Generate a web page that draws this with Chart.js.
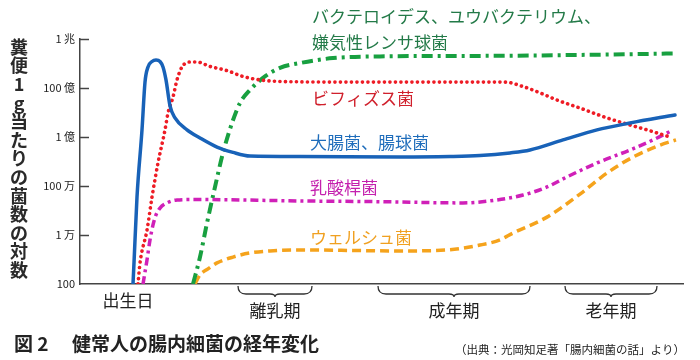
<!DOCTYPE html>
<html>
<head>
<meta charset="utf-8">
<script src="https://cdn.jsdelivr.net/npm/chart.js@4/dist/chart.umd.min.js"></script>
<style>
  html, body { margin: 0; padding: 0; background: #fff; }
  #wrap { width: 700px; height: 360px; }
</style>
</head>
<body>
<div id="wrap"><canvas id="c" width="700" height="360"></canvas></div>
<script>
// ---- data (x: time along the axis, y: log10 of bacteria count per 1 g feces) ----
const ageBlue = [53, 54, 57, 62, 65, 68, 72, 76, 80, 83, 86, 90, 95, 107, 120, 137, 153, 170, 220, 320, 370, 400, 430, 450, 483, 517, 550, 595];
const logBlue = [2.0, 2.86, 5.55, 8.29, 10.24, 10.86, 11.08, 11.14, 11.08, 10.86, 10.33, 9.27, 8.78, 8.29, 7.96, 7.59, 7.37, 7.22, 7.2, 7.18, 7.2, 7.24, 7.35, 7.47, 7.88, 8.29, 8.57, 8.9];

const ageRed = [58, 60, 67, 72, 78, 85, 88, 93, 97, 102, 110, 117, 130, 147, 163, 180, 207, 270, 350, 425, 443, 460, 477, 500, 527, 550, 567, 590];
const logRed = [2.0, 2.86, 4.2, 5.55, 6.94, 8.29, 8.98, 9.63, 10.33, 10.86, 11.06, 11.06, 10.88, 10.71, 10.47, 10.33, 10.26, 10.24, 10.24, 10.24, 10.06, 9.8, 9.51, 9.18, 8.78, 8.49, 8.29, 8.0];

const ageMagenta = [63, 67, 70, 73, 76, 80, 87, 97, 115, 220, 300, 383, 417, 443, 467, 487, 517, 550, 573, 593];
const logMagenta = [2.0, 2.98, 3.8, 4.41, 4.82, 5.1, 5.31, 5.43, 5.45, 5.39, 5.36, 5.31, 5.43, 5.63, 5.96, 6.37, 6.94, 7.47, 7.88, 8.29];

const ageGreen = [113, 120, 127, 135, 143, 152, 160, 170, 183, 200, 220, 253, 300, 400, 500, 597];
const logGreen = [2.0, 3.1, 4.49, 5.96, 7.35, 8.57, 9.39, 9.92, 10.41, 10.82, 11.02, 11.22, 11.29, 11.31, 11.35, 11.41];

const ageOrange = [115, 120, 128, 137, 153, 170, 190, 220, 320, 367, 400, 420, 433, 467, 500, 527, 553, 580, 596];
const logOrange = [2.0, 2.37, 2.62, 2.86, 3.1, 3.27, 3.35, 3.39, 3.35, 3.39, 3.59, 3.8, 4.08, 4.73, 5.67, 6.53, 7.18, 7.67, 7.88];

const yTickValues = [2, 4, 6, 8, 10, 12];
const yTickLabels = ['100', '1 万', '100 万', '1 億', '100 億', '1 兆'];

const seriesNames = ['大腸菌、腸球菌', 'ビフィズス菌', '乳酸桿菌', 'バクテロイデス、ユウバクテリウム、\n嫌気性レンサ球菌', 'ウェルシュ菌'];

const birthLabel = '出生日';
const birthAge = 48;
const periodLabels = ['離乳期', '成年期', '老年期'];
const periodStart = [158, 298, 485];
const periodEnd = [232, 450, 577];

const yTitle = '糞便1g当たりの菌数の対数';
const figTitleNum = '図 2';
const figTitle = '健常人の腸内細菌の経年変化';
const sourceText = '（出典：光岡知足著「腸内細菌の話」より）';

// ---- chart ----
const FONT = "'Noto Sans CJK JP', 'Noto Sans', sans-serif";
Chart.defaults.font.family = FONT;

function pts(xs, ys) { return xs.map((x, i) => ({ x: x, y: ys[i] })); }

const colors = {
  blue: '#1862b8', red: '#ee1c25', magenta: '#d020b8', green: '#18a040', orange: '#f5a31c'
};
const textColors = {
  blue: '#1f6dbb', red: '#d0202c', magenta: '#c420ae', green: '#237a48', orange: '#f0a020'
};

const datasets = [
  { label: seriesNames[0], data: pts(ageBlue, logBlue), borderColor: colors.blue, borderWidth: 3.5, borderCapStyle: 'round' },
  { label: seriesNames[1], data: pts(ageRed, logRed), borderColor: colors.red, borderWidth: 3.6, borderDash: [0.1, 5.4], borderCapStyle: 'round' },
  { label: seriesNames[2], data: pts(ageMagenta, logMagenta), borderColor: colors.magenta, borderWidth: 3.5, borderDash: [8, 4, 3, 4] },
  { label: seriesNames[3], data: pts(ageGreen, logGreen), borderColor: colors.green, borderWidth: 4, borderDash: [11, 5, 3, 5] },
  { label: seriesNames[4], data: pts(ageOrange, logOrange), borderColor: colors.orange, borderWidth: 3.5, borderDash: [9, 5] }
];
datasets.forEach(d => { d.fill = false; d.pointRadius = 0; d.cubicInterpolationMode = 'monotone'; });

const decor = {
  id: 'decor',
  afterDraw(chart) {
    const ctx = chart.ctx;
    const xs = chart.scales.x, ys = chart.scales.y;
    const area = chart.chartArea;
    ctx.save();

    // inward y ticks
    ctx.strokeStyle = '#444';
    ctx.lineWidth = 1.5;
    yTickValues.forEach(v => {
      if (v === ys.min) return;
      const y = Math.round(ys.getPixelForValue(v)) + 0.5;
      ctx.beginPath();
      ctx.moveTo(area.left, y);
      ctx.lineTo(area.left + 9, y);
      ctx.stroke();
    });

    // vertical y title
    ctx.fillStyle = '#2a2a2a';
    ctx.font = 'bold 18px ' + FONT;
    ctx.textAlign = 'center';
    ctx.textBaseline = 'middle';
    const chars = Array.from(yTitle);
    chars.forEach((ch, i) => { ctx.fillText(ch, 19, 47 + i * 18.6); });

    // x period labels & braces
    ctx.fillStyle = '#222';
    ctx.font = '17px ' + FONT;
    ctx.fillText(birthLabel, xs.getPixelForValue(birthAge), 301);
    ctx.strokeStyle = '#333';
    ctx.lineWidth = 1.3;
    periodLabels.forEach((lab, i) => {
      const x1 = xs.getPixelForValue(periodStart[i]);
      const x2 = xs.getPixelForValue(periodEnd[i]);
      const xm = (x1 + x2) / 2;
      const yt = area.bottom + 2, ym = area.bottom + 10, yb = area.bottom + 13;
      ctx.beginPath();
      ctx.moveTo(x1, yt);
      ctx.quadraticCurveTo(x1, ym, x1 + 8, ym);
      ctx.lineTo(xm - 5, ym);
      ctx.quadraticCurveTo(xm, ym, xm, yb);
      ctx.quadraticCurveTo(xm, ym, xm + 5, ym);
      ctx.lineTo(x2 - 8, ym);
      ctx.quadraticCurveTo(x2, ym, x2, yt);
      ctx.stroke();
      ctx.fillText(lab, xm, 311);
    });

    // series labels
    ctx.textAlign = 'left';
    ctx.font = '17px ' + FONT;
    const lab = (txt, col, xv, yv) => {
      ctx.fillStyle = col;
      ctx.fillText(txt, xs.getPixelForValue(xv), ys.getPixelForValue(yv));
    };
    const gl = seriesNames[3].split('\n');
    lab(gl[0], textColors.green, 232, 12.9);
    lab(gl[1], textColors.green, 232, 11.84);
    lab(seriesNames[1], textColors.red, 232, 9.55);
    lab(seriesNames[0], textColors.blue, 230, 7.76);
    lab(seriesNames[2], textColors.magenta, 230, 5.92);
    lab(seriesNames[4], textColors.orange, 230, 3.88);

    // figure title + source
    ctx.fillStyle = '#222';
    ctx.font = 'bold 19px ' + FONT;
    ctx.fillText(figTitleNum, 14, 344);
    ctx.fillText(figTitle, 72, 344);
    ctx.font = '11.5px ' + FONT;
    ctx.fillText(sourceText, 455, 350);
    ctx.restore();
  }
};

new Chart(document.getElementById('c'), {
  type: 'line',
  data: { datasets: datasets },
  options: {
    responsive: false,
    animation: false,
    devicePixelRatio: 1,
    layout: { padding: { top: 39, bottom: 76, left: 0, right: 17 } },
    plugins: { legend: { display: false }, tooltip: { enabled: false } },
    scales: {
      x: {
        type: 'linear', min: 0, max: 603,
        ticks: { display: false },
        grid: { display: true, drawOnChartArea: false, drawTicks: false },
        border: { display: true, color: '#444', width: 1.5 },
        afterFit(s) { s.height = 0; }
      },
      y: {
        type: 'linear', min: 2, max: 12,
        afterBuildTicks(s) { s.ticks = yTickValues.map(v => ({ value: v })); },
        ticks: {
          color: '#222', font: { size: 11 }, padding: 5,
          callback: (v) => yTickLabels[yTickValues.indexOf(v)]
        },
        grid: { display: true, drawOnChartArea: false, drawTicks: false },
        border: { display: true, color: '#444', width: 1.5 },
        afterFit(s) { s.width = 80; }
      }
    }
  },
  plugins: [decor]
});
</script>
</body>
</html>
